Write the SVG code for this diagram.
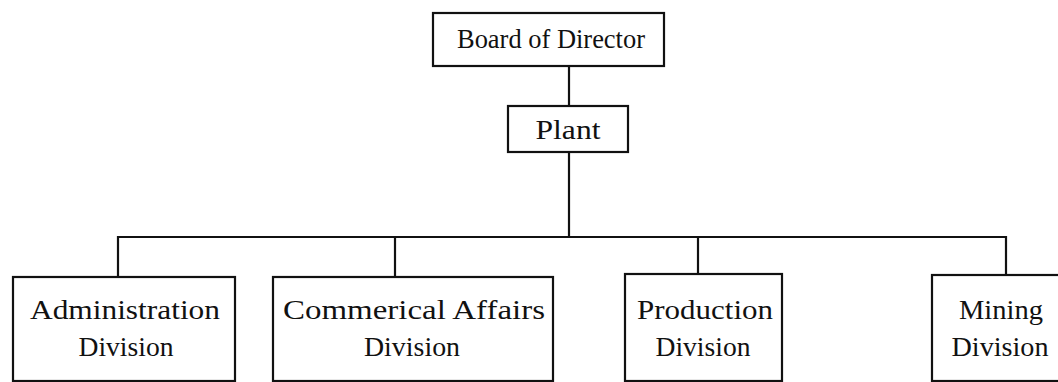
<svg xmlns="http://www.w3.org/2000/svg" width="1058" height="382" viewBox="0 0 1058 382">
<style>
.box{fill:#fff;stroke:#111;stroke-width:2.2}
.lbl{font-family:"Liberation Serif","Times New Roman",serif;font-size:27px;fill:#111;text-anchor:middle}
.con{fill:none;stroke:#111;stroke-width:2.2}
</style>
<rect width="1058" height="382" fill="#fff"/>
<g id="connectors">
<path class="con" d="M569,66 V106"/>
<path class="con" d="M569,152 V237"/>
<path class="con" d="M118,277 V237 H1006 V275"/>
<path class="con" d="M395,237 V277"/>
<path class="con" d="M698,237 V274"/>
</g>
<g id="board">
<rect class="box" x="433" y="13" width="231" height="53"/>
<text class="lbl" x="551" y="48" textLength="188" lengthAdjust="spacingAndGlyphs">Board of Director</text>
</g>
<g id="plant">
<rect class="box" x="508" y="106" width="120" height="46"/>
<text class="lbl" x="568" y="139" textLength="65" lengthAdjust="spacingAndGlyphs">Plant</text>
</g>
<g id="admin">
<rect class="box" x="13" y="277" width="222" height="104"/>
<text class="lbl" x="125" y="319" textLength="190" lengthAdjust="spacingAndGlyphs">Administration</text>
<text class="lbl" x="126" y="356" textLength="95" lengthAdjust="spacingAndGlyphs">Division</text>
</g>
<g id="commercial">
<rect class="box" x="273" y="277" width="280" height="104"/>
<text class="lbl" x="414" y="319" textLength="262" lengthAdjust="spacingAndGlyphs">Commerical Affairs</text>
<text class="lbl" x="412" y="356" textLength="96" lengthAdjust="spacingAndGlyphs">Division</text>
</g>
<g id="production">
<rect class="box" x="625" y="274" width="157" height="107"/>
<text class="lbl" x="705" y="319" textLength="136" lengthAdjust="spacingAndGlyphs">Production</text>
<text class="lbl" x="703" y="356" textLength="95" lengthAdjust="spacingAndGlyphs">Division</text>
</g>
<g id="mining">
<rect class="box" x="932" y="275" width="140" height="106"/>
<text class="lbl" x="1001" y="319" textLength="84" lengthAdjust="spacingAndGlyphs">Mining</text>
<text class="lbl" x="1000" y="356" textLength="97" lengthAdjust="spacingAndGlyphs">Division</text>
</g>
</svg>
